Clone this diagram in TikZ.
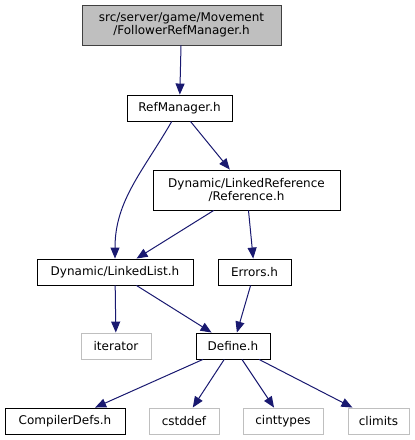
\documentclass[tikz,border=0pt]{standalone}
\usepackage{fontspec}
\setmainfont{DejaVu Sans}
\usetikzlibrary{arrows.meta}
\definecolor{edgeblue}{HTML}{191970}
\definecolor{sysgray}{HTML}{BFBFBF}
\begin{document}
\begin{tikzpicture}
  [x=1pt,y=1pt,
   every node/.style={draw=black,line width=0.9pt,fill=white,inner sep=0pt,
     align=center,minimum height=26pt,font=\fontsize{12}{13.5}\selectfont},
   sys/.style={draw=sysgray},
   edge/.style={draw=edgeblue,line width=1pt,-{Triangle[length=11pt,width=9pt]}}]
  \useasboundingbox (0,0) rectangle (415,-440);
  \node[fill=sysgray,draw=black!75,minimum width=199pt,minimum height=40pt] (frm) at (181.5,-25) {src/server/game/Movement\\/FollowerRefManager.h};
  \node[minimum width=105pt] (rm) at (179.5,-108) {RefManager.h};
  \node[minimum width=187pt,minimum height=40pt] (ref) at (246.5,-190) {Dynamic/LinkedReference\\/Reference.h};
  \node[minimum width=156pt] (ll) at (115,-272) {Dynamic/LinkedList.h};
  \node[minimum width=73pt] (err) at (254.5,-272) {Errors.h};
  \node[sys,minimum width=70pt] (it) at (116,-346) {iterator};
  \node[minimum width=74pt] (def) at (233,-346) {Define.h};
  \node[minimum width=120pt] (cdefs) at (65,-421) {CompilerDefs.h};
  \node[sys,minimum width=70pt] (cstd) at (184,-421) {cstddef};
  \node[sys,minimum width=80pt] (cint) at (283,-421) {cinttypes};
  \node[sys,minimum width=61pt] (clim) at (378.5,-421) {climits};

  \foreach \from/\to in {frm/rm, rm/ref, ref/ll, ref/err, ll/it, ll/def, err/def,
    def/cdefs, def/cstd, def/cint, def/clim}
  \draw[edge] (\from) -- (\to);

  \draw[edge] (rm) to[out=-120,in=90] (ll);
\end{tikzpicture}
\end{document}
